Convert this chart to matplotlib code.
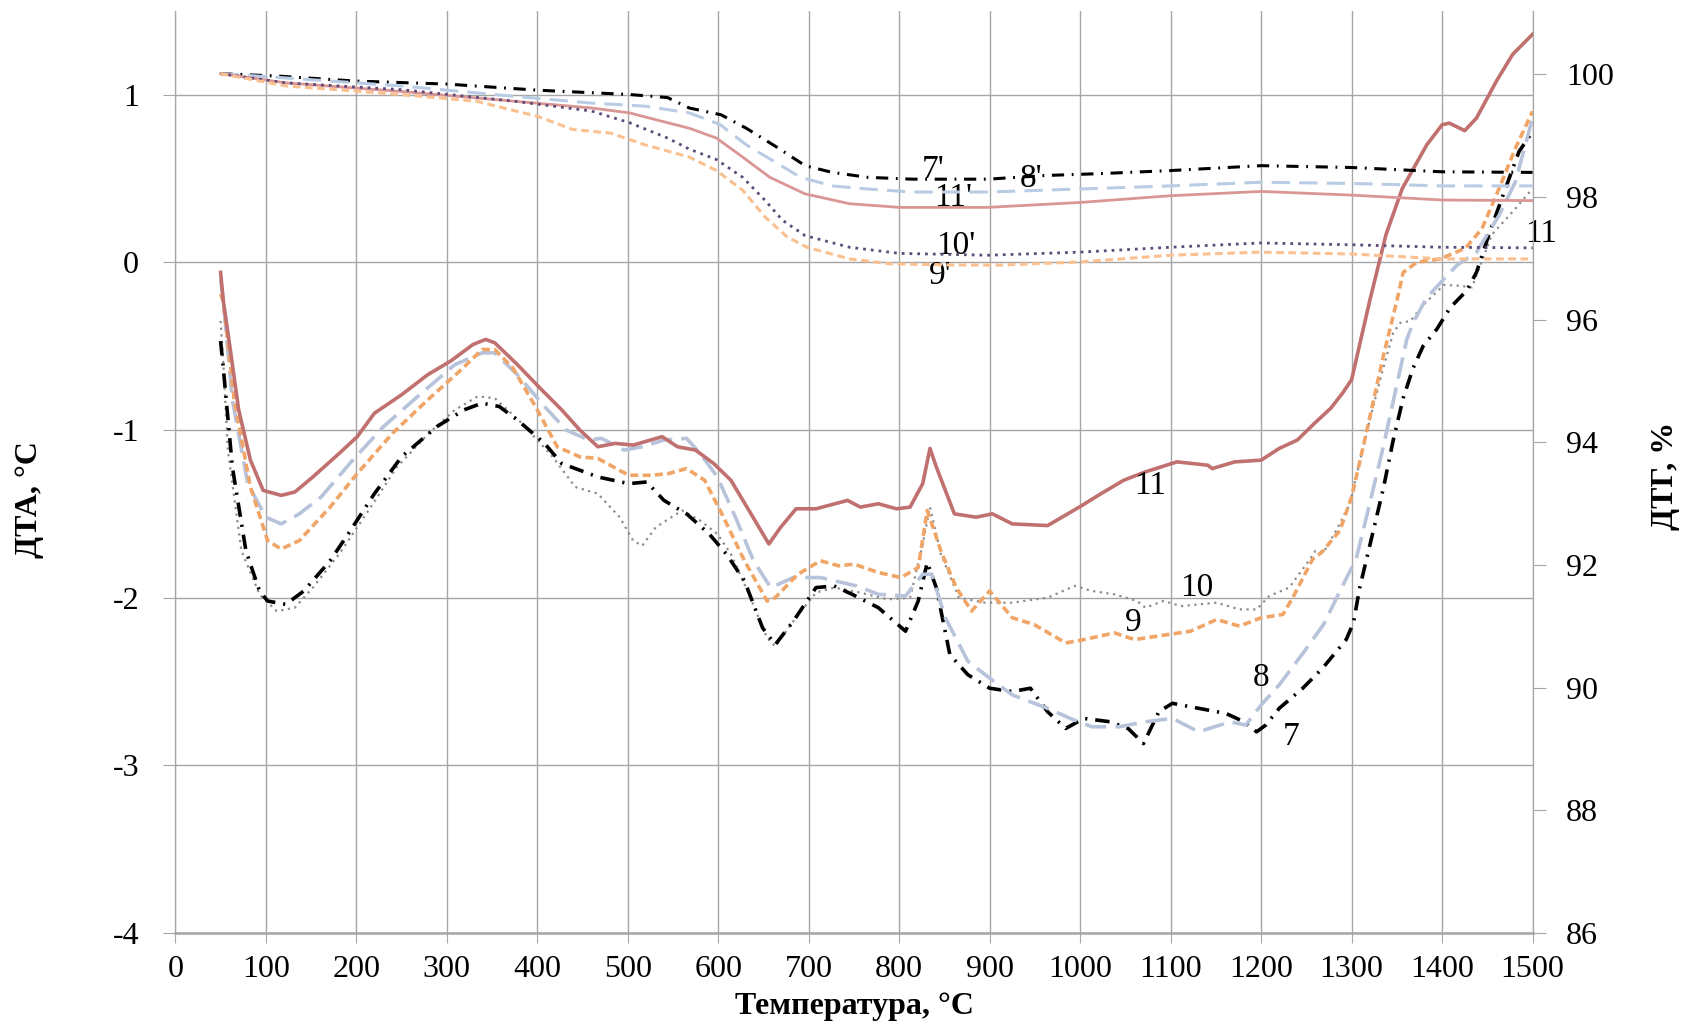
import matplotlib.pyplot as plt

plt.rcParams['font.family'] = ['Liberation Serif', 'DejaVu Serif']
plt.rcParams['axes.unicode_minus'] = False

# --- DTA curves (left axis, °C) ---
t7 = [50, 53, 63, 78, 93, 102, 122, 142, 171, 191, 220, 250, 289, 319, 339, 358, 378, 408, 427, 457,
      467, 501, 521, 540, 565, 590, 609, 629, 649, 663, 683, 708, 728, 748, 777, 807, 821, 831, 841, 856,
      876, 900, 925, 945, 964, 984, 1004, 1033, 1053, 1070, 1087, 1102, 1131, 1161, 1181, 1195, 1205,
      1220, 1246, 1268, 1294, 1302, 1309, 1324, 1335, 1346, 1357, 1368, 1379, 1394, 1409, 1427, 1438,
      1452, 1470, 1485, 1500]
dta7 = [-0.47, -0.63, -1.22, -1.72, -1.96, -2.02, -2.04, -1.96, -1.78, -1.62, -1.38, -1.16, -0.98, -0.88,
        -0.84, -0.86, -0.94, -1.08, -1.20, -1.26, -1.28, -1.32, -1.31, -1.42, -1.50, -1.62, -1.74, -1.90,
        -2.18, -2.28, -2.14, -1.94, -1.93, -1.98, -2.06, -2.20, -2.02, -1.79, -1.94, -2.34, -2.46, -2.54,
        -2.56, -2.54, -2.68, -2.78, -2.72, -2.74, -2.78, -2.87, -2.68, -2.63, -2.66, -2.69, -2.74, -2.80,
        -2.76, -2.66, -2.54, -2.42, -2.25, -2.15, -1.94, -1.60, -1.35, -1.06, -0.81, -0.63, -0.50, -0.40,
        -0.27, -0.17, -0.06, 0.17, 0.44, 0.66, 0.78]

t8 = [50, 53, 63, 80, 100, 117, 137, 161, 196, 230, 270, 309, 339, 353, 378, 408, 432, 457, 471, 496,
      516, 540, 565, 580, 599, 619, 639, 658, 683, 713, 753, 777, 807, 826, 836, 851, 876, 900, 925, 964,
      989, 1013, 1043, 1072, 1102, 1131, 1166, 1183, 1200, 1220, 1245, 1269, 1289, 1305, 1320, 1335,
      1350, 1361, 1368, 1383, 1402, 1416, 1438, 1463, 1481, 1500]
dta8 = [-0.10, -0.23, -0.82, -1.32, -1.52, -1.56, -1.50, -1.40, -1.18, -0.98, -0.79, -0.61, -0.54, -0.54,
        -0.67, -0.86, -1.00, -1.06, -1.05, -1.12, -1.10, -1.06, -1.05, -1.14, -1.28, -1.52, -1.78, -1.94,
        -1.88, -1.88, -1.93, -1.98, -1.99, -1.86, -1.86, -2.12, -2.38, -2.48, -2.58, -2.66, -2.72, -2.77,
        -2.77, -2.74, -2.72, -2.80, -2.74, -2.76, -2.64, -2.52, -2.34, -2.16, -1.94, -1.77, -1.44, -1.10,
        -0.73, -0.46, -0.36, -0.21, -0.10, -0.02, 0.06, 0.28, 0.48, 0.86]

t9 = [50, 53, 65, 83, 102, 117, 137, 171, 201, 240, 279, 314, 339, 353, 373, 398, 422, 447, 467, 501,
      526, 545, 565, 585, 604, 629, 654, 663, 688, 713, 733, 750, 777, 802, 821, 831, 846, 863, 880, 900,
      925, 949, 984, 1004, 1038, 1060, 1097, 1122, 1151, 1176, 1200, 1224, 1235, 1257, 1267, 1287, 1300,
      1309, 1317, 1335, 1350, 1357, 1372, 1398, 1426, 1444, 1463, 1481, 1500]
dta9 = [-0.19, -0.23, -0.82, -1.34, -1.66, -1.71, -1.66, -1.46, -1.26, -1.02, -0.82, -0.65, -0.52, -0.52,
        -0.63, -0.86, -1.10, -1.16, -1.17, -1.27, -1.27, -1.26, -1.23, -1.30, -1.50, -1.78, -2.02, -2.00,
        -1.86, -1.78, -1.81, -1.80, -1.85, -1.88, -1.82, -1.48, -1.72, -1.94, -2.08, -1.96, -2.12, -2.16,
        -2.27, -2.25, -2.21, -2.25, -2.22, -2.20, -2.13, -2.17, -2.12, -2.10, -2.00, -1.77, -1.73, -1.60,
        -1.40, -1.19, -1.00, -0.56, -0.23, -0.06, 0.00, 0.02, 0.085, 0.20, 0.44, 0.68, 0.90]

t10 = [50, 53, 58, 73, 93, 112, 132, 152, 181, 211, 245, 280, 309, 334, 353, 383, 417, 442, 467, 491,
       506, 516, 531, 560, 580, 599, 614, 634, 654, 663, 683, 708, 728, 757, 787, 812, 826, 834, 846, 866,
       895, 925, 964, 994, 1013, 1038, 1063, 1072, 1092, 1112, 1151, 1176, 1195, 1209, 1231, 1254, 1260,
       1269, 1283, 1298, 1309, 1320, 1335, 1346, 1354, 1365, 1380, 1402, 1420, 1433, 1455, 1481, 1500]
dta10 = [-0.35, -0.60, -1.12, -1.72, -1.98, -2.08, -2.06, -1.94, -1.74, -1.50, -1.22, -1.02, -0.88, -0.80,
         -0.81, -0.96, -1.16, -1.34, -1.38, -1.52, -1.66, -1.69, -1.58, -1.48, -1.54, -1.62, -1.74, -1.98,
         -2.24, -2.29, -2.14, -1.97, -1.94, -1.97, -2.01, -2.00, -1.68, -1.46, -1.74, -2.00, -2.03, -2.03,
         -2.00, -1.93, -1.96, -1.98, -2.02, -2.06, -2.02, -2.05, -2.03, -2.07, -2.07, -1.99, -1.94, -1.77,
         -1.72, -1.73, -1.60, -1.44, -1.19, -0.94, -0.63, -0.42, -0.36, -0.35, -0.25, -0.135, -0.14, -0.15,
         0.165, 0.32, 0.44]

t11 = [50, 53, 61, 70, 83, 97, 117, 132, 152, 181, 201, 220, 250, 279, 304, 329, 343, 353, 378, 403,
       427, 447, 467, 486, 506, 538, 555, 575, 595, 614, 634, 656, 669, 686, 708, 743, 757, 777, 797, 812,
       826, 834, 841, 861, 885, 903, 925, 964, 999, 1023, 1048, 1072, 1107, 1141, 1146, 1171, 1200, 1220,
       1240, 1259, 1277, 1290, 1300, 1320, 1338, 1356, 1383, 1400, 1408, 1425, 1438, 1460, 1478, 1500]
dta11 = [-0.06, -0.23, -0.53, -0.88, -1.18, -1.36, -1.39, -1.37, -1.28, -1.14, -1.04, -0.90, -0.79, -0.67,
         -0.59, -0.49, -0.46, -0.48, -0.61, -0.75, -0.88, -1.00, -1.10, -1.08, -1.09, -1.04, -1.10, -1.12,
         -1.20, -1.30, -1.48, -1.68, -1.58, -1.47, -1.47, -1.42, -1.46, -1.44, -1.47, -1.46, -1.32, -1.11,
         -1.22, -1.50, -1.52, -1.50, -1.56, -1.57, -1.46, -1.38, -1.30, -1.25, -1.19, -1.21, -1.23, -1.19,
         -1.18, -1.11, -1.06, -0.96, -0.87, -0.78, -0.70, -0.23, 0.165, 0.44, 0.70, 0.82, 0.83, 0.785,
         0.86, 1.08, 1.24, 1.36]

# --- TG curves (right axis, %) ---
t7p = [50, 114, 198, 300, 401, 502, 544, 568, 603, 631, 666, 696, 726, 765, 814, 898, 962, 1022, 1100,
       1200, 1300, 1400, 1500]
tg7 = [100.01, 99.97, 99.89, 99.84, 99.74, 99.67, 99.62, 99.45, 99.34, 99.12, 98.80, 98.51, 98.40, 98.32,
       98.29, 98.29, 98.35, 98.38, 98.43, 98.51, 98.48, 98.41, 98.40]

t8p = [50, 122, 249, 375, 460, 519, 568, 602, 631, 666, 691, 726, 765, 814, 898, 1001, 1100, 1200, 1300,
       1400, 1500]
tg8 = [100.01, 99.94, 99.81, 99.64, 99.53, 99.48, 99.37, 99.18, 98.85, 98.54, 98.32, 98.18, 98.13, 98.08,
       98.08, 98.13, 98.18, 98.24, 98.22, 98.18, 98.18]

t9p = [50, 122, 249, 333, 401, 439, 481, 519, 568, 598, 627, 652, 676, 698, 745, 790, 863, 913, 1000,
       1100, 1200, 1300, 1400, 1500]
tg9 = [100.01, 99.81, 99.67, 99.56, 99.31, 99.10, 99.04, 98.85, 98.65, 98.43, 98.11, 97.67, 97.35, 97.18,
       96.99, 96.91, 96.89, 96.89, 96.94, 97.05, 97.10, 97.07, 96.99, 96.99]

t10p = [50, 122, 249, 375, 460, 502, 544, 568, 598, 627, 652, 671, 696, 745, 800, 898, 1000, 1100, 1200,
        1300, 1400, 1500]
tg10 = [100.01, 99.86, 99.75, 99.56, 99.40, 99.21, 98.96, 98.78, 98.61, 98.32, 97.94, 97.62, 97.37, 97.18,
        97.08, 97.05, 97.10, 97.18, 97.25, 97.22, 97.18, 97.17]

t11p = [50, 122, 249, 375, 460, 502, 544, 568, 598, 627, 657, 696, 745, 800, 898, 1000, 1100, 1200, 1300,
        1400, 1500]
tg11 = [100.01, 99.86, 99.72, 99.56, 99.45, 99.37, 99.21, 99.12, 98.96, 98.65, 98.32, 98.05, 97.89, 97.83,
        97.83, 97.91, 98.02, 98.09, 98.03, 97.95, 97.94]

x_ticks = list(range(0, 1600, 100))
left_ticks = [-4, -3, -2, -1, 0, 1]
right_ticks = [86, 88, 90, 92, 94, 96, 98, 100]

fig = plt.figure(figsize=(16.86, 10.26), dpi=100)
ax = fig.add_axes([0.104, 0.0906, 0.805, 0.8989])
ax2 = ax.twinx()

grid_c = '#a6a6a6'

# DTA
ax.plot(t10, dta10, color='#8c8c8c', lw=1.6, ls=(0, (1, 2)))
ax.plot(t7, dta7, color='black', lw=2.6, ls=(0, (4, 2.2, 0.6, 2.2)))
ax.plot(t8, dta8, color='#b7c3da', lw=2.6, ls=(0, (6, 2.5)))
ax.plot(t9, dta9, color='#f0a566', lw=2.6, ls=(0, (2.2, 1.2)))
ax.plot(t11, dta11, color='#c0706e', lw=2.6)

# TG
ax2.plot(t7p, tg7, color='black', lw=2.2, ls=(0, (4, 2.5, 0.6, 2.5)))
ax2.plot(t8p, tg8, color='#b9cce4', lw=2.2, ls=(0, (6, 3)))
ax2.plot(t11p, tg11, color='#d99694', lw=2.0)
ax2.plot(t10p, tg10, color='#604a7b', lw=2.0, ls=(0, (1, 1.8)))
ax2.plot(t9p, tg9, color='#fac08f', lw=2.2, ls=(0, (2.5, 1.5)))

ax.set_xlim(0, 1500)
ax.set_ylim(-4, 1.5)
ax2.set_ylim(86.02, 101.035)

ax.set_xticks(x_ticks)
ax.set_xticklabels([str(v) for v in x_ticks])
ax.set_yticks(left_ticks)
ax.set_yticklabels([str(v) for v in left_ticks])
ax2.set_yticks(right_ticks)
ax2.set_yticklabels([str(v) for v in right_ticks])

ax.grid(True, color=grid_c, lw=1.0)
ax.set_axisbelow(True)

for a in (ax, ax2):
    a.spines['top'].set_visible(False)
    for s in ('left', 'right', 'bottom'):
        a.spines[s].set_color(grid_c)
ax.spines['bottom'].set_linewidth(1.8)

ax.tick_params(axis='y', direction='out', length=9, color=grid_c, labelsize=23, pad=17)
ax.tick_params(axis='x', direction='out', length=7, color=grid_c, labelsize=23, pad=9)
ax2.tick_params(axis='y', direction='out', length=9, color=grid_c, labelsize=23, pad=15)

ax.set_xlabel('Температура, °С', fontsize=23, fontweight='bold')
ax.xaxis.set_label_coords(0.5, -0.064)
ax.set_ylabel('ДТА, °С', fontsize=23, fontweight='bold')
ax.yaxis.set_label_coords(-0.097, 0.47)
ax2.set_ylabel('ДТГ, %', fontsize=23, fontweight='bold')
ax2.yaxis.set_label_coords(1.087, 0.496)

# curve labels
labels = [("7'", 837, 0.55), ("8'", 946, 0.50), ("11'", 860, 0.385), ("10'", 863, 0.10), ("9'", 845, -0.08),
          ("11", 1510, 0.17), ("11", 1077, -1.33), ("10", 1129, -1.94), ("9", 1059, -2.15),
          ("8", 1200, -2.48), ("7", 1233, -2.83)]
for txt, tx, ty in labels:
    ax.text(tx, ty, txt, fontsize=24, ha='center', va='center', clip_on=False)

fig.savefig('out.png', dpi=100)
